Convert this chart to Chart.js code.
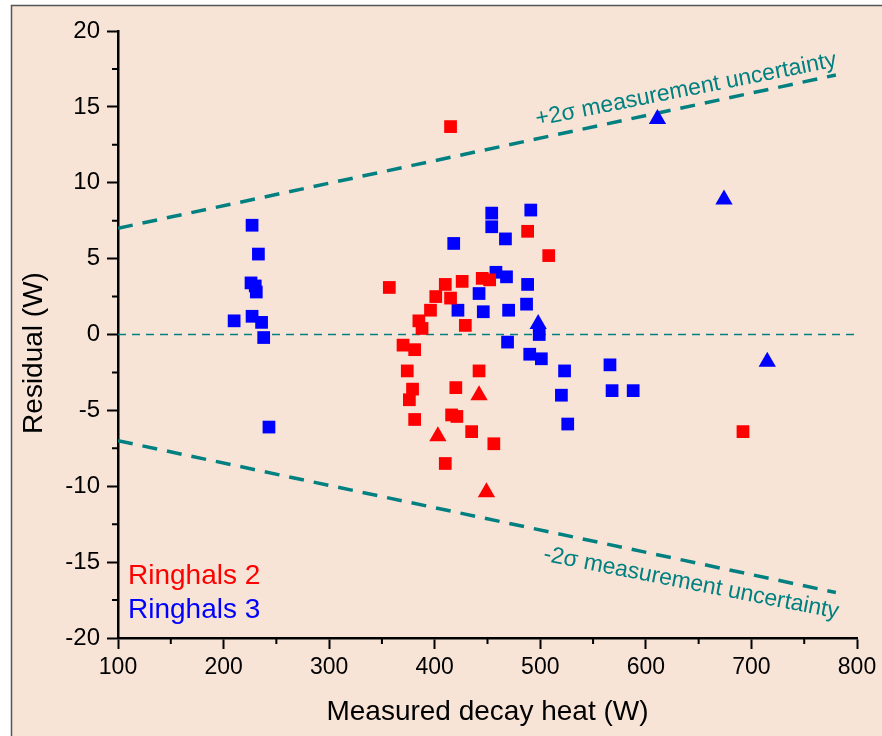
<!DOCTYPE html>
<html>
<head>
<meta charset="utf-8">
<script src="https://cdn.jsdelivr.net/npm/chart.js@4/dist/chart.umd.min.js"></script>
<style>
  html, body { margin: 0; padding: 0; background: #fff; }
  canvas { display: block; }
</style>
</head>
<body>
<canvas id="chart" width="882" height="736"></canvas>
<script>
/* ---- data ------------------------------------------------------- */
const r2Squares = [
  [415, 13.7], [357, 3.1], [488, 6.8], [508, 5.2], [410, 3.3], [426, 3.5],
  [445, 3.7], [452, 3.6], [401, 2.5], [415, 2.4], [396, 1.6], [385, 0.9],
  [388, 0.4], [429, 0.6], [370, -0.7], [381, -1.0], [374, -2.4], [442, -2.4],
  [379, -3.6], [420, -3.5], [376, -4.3], [381, -5.6], [416, -5.3], [421, -5.4],
  [435, -6.4], [456, -7.2], [410, -8.5], [692, -6.4]
];
const r2Triangles = [[442, -4.0], [403, -6.7], [449, -10.4]];

const r3Squares = [
  [227, 7.2], [233, 5.3], [226, 3.4], [230, 3.2], [231, 2.8], [210, 0.9],
  [227, 1.2], [236, 0.8], [238, -0.2], [243, -6.1],
  [454, 8.0], [454, 7.1], [491, 8.2], [467, 6.3], [418, 6.0], [458, 4.1],
  [468, 3.8], [488, 3.3], [442, 2.7], [487, 2.0], [422, 1.6], [446, 1.5],
  [470, 1.6], [469, -0.5], [490, -1.3], [501, -1.6], [499, 0.0],
  [566, -2.0], [568, -3.7], [588, -3.7], [523, -2.4], [520, -4.0], [526, -5.9]
];
const r3Triangles = [[611, 14.2], [674, 8.9], [715, -1.8], [498, 0.7]];

const upperBand = [[100, 7.0], [780, 17.1]];
const lowerBand = [[100, -7.0], [780, -17.0]];
const zeroLine  = [[100, 0], [800, 0]];

const xTicks = { min: 100, max: 800, step: 100 };
const yTicks = { min: -20, max: 20, step: 5 };
const minorX = [150, 250, 350, 450, 550, 650, 750];
const minorY = [17.5, 12.5, 7.5, 2.5, -2.5, -7.5, -12.5, -17.5];

const upperLabel = { text: '+2\u03c3 measurement uncertainty', at: [497, 13.75] };
const lowerLabel = { text: '-2\u03c3 measurement uncertainty', at: [502, -14.9] };
const legendItems = [
  { text: 'Ringhals 2', color: '#ff0000' },
  { text: 'Ringhals 3', color: '#0000ff' }
];

/* ---- helpers ----------------------------------------------------- */
const pts  = arr => arr.map(([x, y]) => ({ x, y }));
const TEAL = '#008080';
const FONT = '"Liberation Sans", Arial, sans-serif';

function marks(label, data, color, style, r) {
  return { label, data: pts(data), pointStyle: style, pointRadius: r,
           pointHoverRadius: r, backgroundColor: color, borderWidth: 0 };
}
function guide(data, width, dash) {
  return { data: pts(data), showLine: true, pointRadius: 0, borderColor: TEAL,
           borderWidth: width, borderDash: dash, fill: false };
}

/* ---- background, minor ticks, free text -------------------------- */
const decor = {
  id: 'decor',
  beforeDraw(chart) {
    const { ctx, width, height } = chart;
    ctx.save();
    ctx.fillStyle = '#f8e4d7';
    ctx.fillRect(11, 5, width - 11, height - 5);
    ctx.strokeStyle = '#555';
    ctx.lineWidth = 1.5;
    ctx.beginPath();
    ctx.moveTo(11.5, height); ctx.lineTo(11.5, 5.5); ctx.lineTo(width, 5.5);
    ctx.stroke();
    ctx.restore();
  },
  afterDraw(chart) {
    const { ctx, scales: { x, y }, chartArea: a } = chart;
    ctx.save();
    ctx.strokeStyle = '#000';
    ctx.lineWidth = 2;
    ctx.beginPath();
    minorY.forEach(v => { const p = y.getPixelForValue(v); ctx.moveTo(a.left - 6, p); ctx.lineTo(a.left, p); });
    minorX.forEach(v => { const p = x.getPixelForValue(v); ctx.moveTo(p, a.bottom); ctx.lineTo(p, a.bottom + 6); });
    ctx.stroke();

    // y title
    ctx.fillStyle = '#000';
    ctx.font = '28px ' + FONT;
    ctx.textAlign = 'center';
    ctx.textBaseline = 'middle';
    ctx.translate(34, 353);
    ctx.rotate(-Math.PI / 2);
    ctx.fillText('Residual (W)', 0, 0);
    ctx.setTransform(1, 0, 0, 1, 0, 0);

    // legend
    ctx.textAlign = 'left';
    ctx.textBaseline = 'alphabetic';
    legendItems.forEach((it, i) => {
      ctx.fillStyle = it.color;
      ctx.fillText(it.text, 128, 584 + i * 34);
    });

    // band labels
    const slope = band => {
      const dx = x.getPixelForValue(band[1][0]) - x.getPixelForValue(band[0][0]);
      const dy = y.getPixelForValue(band[1][1]) - y.getPixelForValue(band[0][1]);
      return Math.atan2(dy, dx) * 0.93;
    };
    ctx.fillStyle = TEAL;
    ctx.font = '23px ' + FONT;
    [[upperLabel, upperBand], [lowerLabel, lowerBand]].forEach(([lab, band]) => {
      ctx.save();
      ctx.translate(x.getPixelForValue(lab.at[0]), y.getPixelForValue(lab.at[1]));
      ctx.rotate(slope(band));
      ctx.fillText(lab.text, 0, 0);
      ctx.restore();
    });
    ctx.restore();
  }
};

/* ---- chart ------------------------------------------------------- */
Chart.defaults.font.family = FONT;
Chart.defaults.color = '#000';

new Chart(document.getElementById('chart'), {
  type: 'scatter',
  data: {
    datasets: [
      marks('Ringhals 2', r2Squares, '#ff0000', 'rect', 9),
      marks('Ringhals 2 tri', r2Triangles, '#ff0000', 'triangle', 10),
      marks('Ringhals 3', r3Squares, '#0000ff', 'rect', 9),
      marks('Ringhals 3 tri', r3Triangles, '#0000ff', 'triangle', 10),
      guide(zeroLine, 1.5, [8, 6]),
      guide(upperBand, 3.5, [15, 10]),
      guide(lowerBand, 3.5, [15, 10])
    ]
  },
  options: {
    responsive: false,
    devicePixelRatio: 1,
    animation: false,
    layout: { padding: { left: 0, top: 31, right: 25, bottom: 0 } },
    plugins: { legend: { display: false }, tooltip: { enabled: false } },
    scales: {
      x: {
        type: 'linear',
        min: xTicks.min, max: xTicks.max,
        ticks: { stepSize: xTicks.step, padding: 5, font: { size: 23 }, color: '#000' },
        grid: { drawOnChartArea: false, drawTicks: true, tickLength: 11, tickColor: '#000', tickWidth: 2 },
        border: { display: true, color: '#000', width: 2.5 },
        title: { display: true, text: 'Measured decay heat (W)', font: { size: 28 },
                 color: '#000', padding: { top: 0, bottom: 7 } },
        afterFit: s => { s.height = 98; }
      },
      y: {
        type: 'linear',
        min: yTicks.min, max: yTicks.max,
        ticks: { stepSize: yTicks.step, padding: 7, font: { size: 24 }, color: '#000' },
        grid: { drawOnChartArea: false, drawTicks: true, tickLength: 11, tickColor: '#000', tickWidth: 2 },
        border: { display: true, color: '#000', width: 2.5 },
        afterFit: s => { s.width = 118; }
      }
    }
  },
  plugins: [decor]
});
</script>
</body>
</html>
